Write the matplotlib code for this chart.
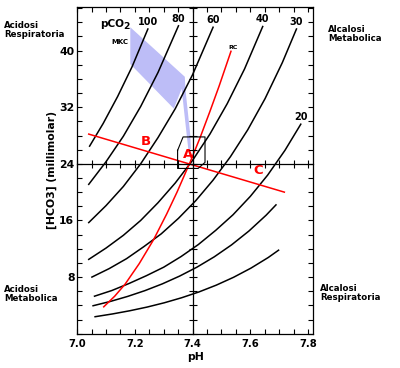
import matplotlib

matplotlib.use("Agg")
import matplotlib.pyplot as plt
from matplotlib.ticker import MultipleLocator, FormatStrFormatter

# pCO2 isopleths: pH vs [HCO3] (mM)
ph_100 = [7.043, 7.09, 7.14, 7.19, 7.245]
hco3_100 = [26.5, 29.7, 33.5, 37.7, 43.05]
ph_80 = [7.040, 7.10, 7.16, 7.22, 7.28, 7.351]
hco3_80 = [21.1, 24.3, 27.9, 32.1, 36.9, 43.5]
ph_60 = [7.040, 7.10, 7.16, 7.22, 7.28, 7.34, 7.40, 7.471]
hco3_60 = [15.7, 18.1, 20.8, 24.0, 27.7, 31.8, 36.6, 43.3]
ph_40 = [7.040, 7.10, 7.16, 7.22, 7.28, 7.34, 7.40, 7.46, 7.52, 7.58, 7.643]
hco3_40 = [10.5, 12.1, 13.9, 16.0, 18.5, 21.3, 24.5, 28.2, 32.5, 37.4, 43.4]
ph_30 = [7.051, 7.111, 7.171, 7.231, 7.291, 7.351, 7.411, 7.471, 7.531, 7.591, 7.651, 7.711, 7.760]
hco3_30 = [8.0, 9.2, 10.6, 12.3, 14.1, 16.3, 18.8, 21.7, 25.0, 28.8, 33.2, 38.3, 43.05]
ph_20 = [7.060, 7.12, 7.18, 7.24, 7.30, 7.36, 7.42, 7.48, 7.54, 7.60, 7.66, 7.72, 7.775]
hco3_20 = [5.3, 6.1, 7.1, 8.2, 9.4, 10.9, 12.6, 14.6, 16.8, 19.4, 22.4, 25.9, 29.6]
ph_15 = [7.055, 7.115, 7.175, 7.235, 7.295, 7.355, 7.415, 7.475, 7.535, 7.595, 7.655, 7.689]
hco3_15 = [3.95, 4.56, 5.27, 6.09, 7.04, 8.14, 9.4, 10.86, 12.55, 14.5, 16.75, 18.2]
ph_10 = [7.062, 7.122, 7.182, 7.242, 7.302, 7.362, 7.422, 7.482, 7.542, 7.602, 7.662, 7.698]
hco3_10 = [2.4, 2.79, 3.24, 3.76, 4.37, 5.08, 5.9, 6.86, 7.97, 9.26, 10.76, 11.8]

iso_ph = [ph_100, ph_80, ph_60, ph_40, ph_30, ph_20, ph_15, ph_10]
iso_hco3 = [hco3_100, hco3_80, hco3_60, hco3_40, hco3_30, hco3_20, hco3_15, hco3_10]
iso_labels = ["100", "80", "60", "40", "30", "20", "", ""]

# red curve RC
rc_ph = [7.092, 7.13, 7.166, 7.215, 7.265, 7.31, 7.346, 7.392, 7.425, 7.46, 7.492, 7.533]
rc_hco3 = [3.8, 5.3, 7.0, 9.9, 13.3, 16.9, 20.0, 24.3, 27.6, 31.4, 35.0, 39.9]

# red buffer line B-A-C
bc_ph = [7.040, 7.718]
bc_hco3 = [28.2, 20.0]

# MKC band
mkc_ph = [7.184, 7.373, 7.375, 7.392, 7.394, 7.385, 7.379, 7.362, 7.335, 7.184]
mkc_hco3 = [43.3, 36.3, 34.6, 28.05, 26.1, 26.1, 28.3, 34.6, 31.8, 38.1]

# box round point A
box_ph = [7.348, 7.367, 7.443, 7.443, 7.419, 7.348, 7.348]
box_hco3 = [25.9, 27.8, 27.8, 24.2, 23.35, 23.35, 25.9]

RED = "#FF0000"
BAND = "#BDBDF7"
FONT = "DejaVu Sans"

plt.rcParams["font.family"] = FONT
plt.rcParams["font.weight"] = "bold"

fig = plt.figure(figsize=(4, 3.68), dpi=100, facecolor="white")
rect = [0.193, 0.0932, 0.59, 0.8886]
ax = fig.add_axes(rect)
ax.set_xlim(7.0, 7.818)
ax.set_ylim(0, 46.2)

ax.fill(mkc_ph, mkc_hco3, color=BAND, lw=0, zorder=1)

for xs, ys, lab in zip(iso_ph, iso_hco3, iso_labels):
    ax.plot(xs, ys, color="black", lw=1.1, zorder=3)
    if lab:
        ax.annotate(lab, (xs[-1], ys[-1]), xytext=(0, 1.5), textcoords="offset points",
                    ha="center", va="bottom", fontsize=7, fontweight="bold")

ax.plot(rc_ph, rc_hco3, color=RED, lw=1.1, zorder=4)
ax.plot(bc_ph, bc_hco3, color=RED, lw=1.1, zorder=4)
ax.plot(box_ph, box_hco3, color="black", lw=0.8, zorder=4)

ax.text(7.1213, 43.4, "pCO", fontsize=7.6, fontweight="bold", ha="center", va="baseline")
ax.text(7.1608, 43.05, "2", fontsize=6.6, fontweight="bold", ha="left", va="baseline")
ax.text(7.147, 41.2, "MKC", fontsize=5, fontweight="bold", ha="center", va="center")
ax.text(7.539, 40.4, "RC", fontsize=4.5, fontweight="bold", ha="center", va="center")

for lab, x, y in [("B", 7.238, 27.13), ("A", 7.385, 25.37), ("C", 7.629, 23.11)]:
    ax.text(x, y, lab, color=RED, fontsize=9.5, fontweight="heavy", ha="center", va="center", zorder=6)

ax.xaxis.set_major_locator(MultipleLocator(0.2))
ax.xaxis.set_minor_locator(MultipleLocator(0.05))
ax.xaxis.set_major_formatter(FormatStrFormatter("%.1f"))
ax.yaxis.set_major_locator(MultipleLocator(8))
ax.yaxis.set_minor_locator(MultipleLocator(2))
ax.tick_params(which="both", direction="in", top=True, right=True, length=3.6, width=0.8)
ax.tick_params(axis="x", labelsize=7.2, pad=4)
ax.tick_params(axis="y", labelsize=7.8, pad=2)
ax.set_yticks([8, 16, 24, 32, 40])
for s in ax.spines.values():
    s.set_linewidth(0.9)

ax.set_xlabel("pH", fontsize=7.8, fontweight="bold", labelpad=2)
ax.set_ylabel("[HCO3] (millimolar)", fontsize=7.8, fontweight="bold", labelpad=1.5)

# central cross at pH 7.4 / 24 mM
cx = fig.add_axes(rect, sharex=ax, sharey=ax)
cx.patch.set_visible(False)
cx.spines["left"].set_position(("data", 7.4))
cx.spines["bottom"].set_position(("data", 24))
cx.spines["top"].set_visible(False)
cx.spines["right"].set_visible(False)
for s in ("left", "bottom"):
    cx.spines[s].set_linewidth(0.9)
cx.tick_params(which="both", direction="inout", length=5.5, width=0.8,
               labelleft=False, labelbottom=False)
cx.yaxis.set_minor_locator(MultipleLocator(2))
cx.xaxis.set_minor_locator(MultipleLocator(0.05))

txt = dict(fontsize=6.2, fontweight="bold", ha="left", va="top", linespacing=1.0)
fig.text(4 / 400, 1 - 21 / 368, "Acidosi\nRespiratoria", **txt)
fig.text(4 / 400, 1 - 285 / 368, "Acidosi\nMetabolica", **txt)
fig.text(328 / 400, 1 - 25 / 368, "Alcalosi\nMetabolica", **txt)
fig.text(320 / 400, 1 - 284 / 368, "Alcalosi\nRespiratoria", **txt)

fig.savefig("out.png", dpi=100, facecolor="white")
